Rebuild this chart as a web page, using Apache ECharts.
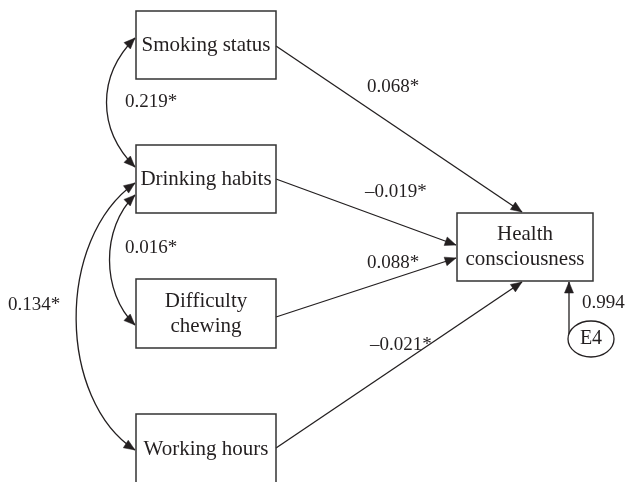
<!DOCTYPE html>
<html>
<head>
<meta charset="utf-8">
<script src="https://cdn.jsdelivr.net/npm/echarts@6/dist/echarts.min.js"></script>
<style>html,body{margin:0;padding:0;background:#fff}#c{width:627px;height:482px}</style>
</head>
<body>
<div id="c"></div>
<script>
// ---- data ----
const nodeNames = ['Smoking status', 'Drinking habits', 'Difficulty\nchewing', 'Working hours', 'Health\nconsciousness'];
const pathFrom = [0, 1, 2, 3];           // each predicts node 4
const pathCoef = [0.068, -0.019, 0.088, -0.021];
const corrPairs = [[0, 1], [1, 2], [1, 3]];
const corrCoef = [0.219, 0.016, 0.134];
const residualName = 'E4';
const residualCoef = 0.994;
const sigMark = '*';

// ---- layout (diagram space, 0..627 x 0..482) ----
const BOX = [[136, 11, 276, 79], [136, 145, 276, 213], [136, 279, 276, 348], [136, 414, 276, 484], [457, 213, 593, 281]];
const PATH_LAYOUT = [
  { from: [276, 46], to: [522, 212], label: [367, 87] },
  { from: [276, 179], to: [456, 245], label: [365, 192] },
  { from: [276, 317], to: [456, 258], label: [367, 263] },
  { from: [276, 448], to: [522, 282], label: [370, 345] }
];
const CORR_LAYOUT = [
  { p0: [135, 38], c1: [97, 76], c2: [97, 129], p3: [135, 167], label: [125, 102] },
  { p0: [135, 195], c1: [101, 228], c2: [101, 292], p3: [135, 325], label: [125, 248] },
  { p0: [135, 183], c1: [55, 240], c2: [58, 400], p3: [135, 450], label: [8, 305] }
];
const RESID = { center: [591, 339], rx: 23, ry: 18, from: [569, 334], to: [569, 282], label: [582, 303] };

const INK = '#231f20';
const SERIF = '"Liberation Serif", "DejaVu Serif", serif';
const AH_LEN = 11, AH_HW = 4.5;

function fmt(v) {
  return (v < 0 ? '\u2013' + Math.abs(v).toFixed(3) : v.toFixed(3)) + sigMark;
}
function head(tip, from) {
  const dx = tip[0] - from[0], dy = tip[1] - from[1];
  const L = Math.sqrt(dx * dx + dy * dy) || 1;
  const ux = dx / L, uy = dy / L;
  const bx = tip[0] - ux * AH_LEN, by = tip[1] - uy * AH_LEN;
  return {
    type: 'polygon',
    shape: { points: [tip, [bx - uy * AH_HW, by + ux * AH_HW], [bx + uy * AH_HW, by - ux * AH_HW]] },
    style: { fill: INK, stroke: INK, lineWidth: 0.5 }
  };
}
function lbl(p, text, align) {
  return {
    type: 'text',
    style: { text: text, x: p[0], y: p[1], align: align || 'left', verticalAlign: 'middle', font: '19px ' + SERIF, fill: INK }
  };
}

const chart = echarts.init(document.getElementById('c'), null, { renderer: 'canvas' });
chart.setOption({
  backgroundColor: '#fff',
  animation: false,
  grid: { left: 0, right: 0, top: 0, bottom: 0 },
  xAxis: { type: 'value', min: 0, max: 627, show: false },
  yAxis: { type: 'value', min: 0, max: 482, inverse: true, show: false },
  series: [
    {
      type: 'custom', name: 'paths', coordinateSystem: 'cartesian2d',
      data: pathFrom.map((f, i) => [i]),
      renderItem: function (params, api) {
        const i = api.value(0);
        const L = PATH_LAYOUT[i];
        const a = api.coord(L.from), b = api.coord(L.to);
        return {
          type: 'group', children: [
            { type: 'line', shape: { x1: a[0], y1: a[1], x2: b[0], y2: b[1] }, style: { stroke: INK, lineWidth: 1.3 } },
            head(b, a),
            lbl(api.coord(L.label), fmt(pathCoef[i]))
          ]
        };
      }
    },
    {
      type: 'custom', name: 'correlations', coordinateSystem: 'cartesian2d',
      data: corrPairs.map((p, i) => [i]),
      renderItem: function (params, api) {
        const i = api.value(0);
        const L = CORR_LAYOUT[i];
        const p0 = api.coord(L.p0), c1 = api.coord(L.c1), c2 = api.coord(L.c2), p3 = api.coord(L.p3);
        return {
          type: 'group', children: [
            { type: 'bezierCurve', shape: { x1: p0[0], y1: p0[1], cpx1: c1[0], cpy1: c1[1], cpx2: c2[0], cpy2: c2[1], x2: p3[0], y2: p3[1] }, style: { stroke: INK, lineWidth: 1.3, fill: null } },
            head(p0, c1),
            head(p3, c2),
            lbl(api.coord(L.label), fmt(corrCoef[i]))
          ]
        };
      }
    },
    {
      type: 'custom', name: 'residual', coordinateSystem: 'cartesian2d',
      data: [[0]],
      renderItem: function (params, api) {
        const c = api.coord(RESID.center);
        const e = api.coord([RESID.center[0] + RESID.rx, RESID.center[1] + RESID.ry]);
        const a = api.coord(RESID.from), b = api.coord(RESID.to);
        return {
          type: 'group', children: [
            { type: 'line', shape: { x1: a[0], y1: a[1], x2: b[0], y2: b[1] }, style: { stroke: INK, lineWidth: 1.3 } },
            head(b, a),
            { type: 'ellipse', shape: { cx: c[0], cy: c[1], rx: e[0] - c[0], ry: e[1] - c[1] }, style: { fill: '#fff', stroke: INK, lineWidth: 1.3 } },
            { type: 'text', style: { text: residualName, x: c[0], y: c[1], align: 'center', verticalAlign: 'middle', font: '20px ' + SERIF, fill: INK } },
            lbl(api.coord(RESID.label), residualCoef.toFixed(3))
          ]
        };
      }
    },
    {
      type: 'custom', name: 'boxes', coordinateSystem: 'cartesian2d',
      data: nodeNames.map((n, i) => [i]),
      renderItem: function (params, api) {
        const i = api.value(0);
        const bx = BOX[i];
        const p0 = api.coord([bx[0], bx[1]]), p1 = api.coord([bx[2], bx[3]]);
        return {
          type: 'group', children: [
            { type: 'rect', shape: { x: p0[0], y: p0[1], width: p1[0] - p0[0], height: p1[1] - p0[1] }, style: { fill: 'rgba(255,255,255,0)', stroke: '#333', lineWidth: 1.5 } },
            { type: 'text', style: { text: nodeNames[i], x: (p0[0] + p1[0]) / 2, y: (p0[1] + p1[1]) / 2, align: 'center', verticalAlign: 'middle', font: '21px ' + SERIF, fill: INK, lineHeight: 25 } }
          ]
        };
      }
    }
  ]
});
</script>
</body>
</html>
